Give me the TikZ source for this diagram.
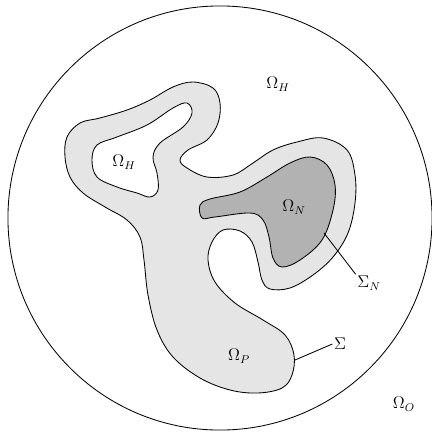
\documentclass[tikz,border=0pt]{standalone}
\usepackage{amsmath,amssymb}
\usepackage{tikz}

\begin{document}
\begin{tikzpicture}[
    x=0.025cm, y=-0.025cm,
    region/.style={draw=black, line width=0.6pt, fill=black!10},
    inner/.style={draw=black, line width=0.6pt, fill=black!30},
    hole/.style={draw=black, line width=0.6pt, fill=white},
    leader/.style={draw=black, line width=0.6pt},
    lbl/.style={inner sep=1pt, font=\large}
]
\useasboundingbox (0,0) rectangle (432,432);
\draw[line width=0.6pt] (220,218) circle [radius=5.3cm];
% outer region Sigma
\path[region] plot[smooth cycle, tension=0.6] coordinates {
  (193,82) (213,88) (220,103) (218,123) (207,140) (188,150) (180,160) (187,168)
  (207,177) (233,175) (253,163) (273,150) (297,142) (323,138) (347,150) (355,175)
  (355,203) (348,233) (333,257) (313,275) (290,288) (270,289) (262,280) (258,262)
  (252,242) (240,231) (223,230) (212,242) (208,260) (215,282) (235,303) (263,320)
  (285,335) (294,355) (292,375) (282,388) (258,393) (230,390) (200,378) (173,357)
  (157,330) (148,295) (144,260) (140,237) (127,220) (105,207) (83,193) (70,177)
  (65,157) (67,137) (80,123) (100,118) (127,110) (150,100) (173,87)};
% hole
\path[hole] plot[smooth cycle, tension=0.6] coordinates {
  (187,103) (192,113) (183,127) (160,143) (153,157) (157,173) (158,190) (150,197)
  (137,193) (117,187) (97,177) (92,160) (97,145) (117,137) (147,125) (173,108)};
% Omega_N
\path[inner] plot[smooth cycle, tension=0.6] coordinates {
  (310,157) (327,165) (335,185) (333,210) (322,240) (300,260) (282,267) (273,258)
  (269,237) (263,220) (250,213) (215,217) (202,218) (200,205) (210,199) (240,192)
  (267,177) (290,163)};

\node (omH) [lbl] at (278,84) {$\Omega_H$};
\node (omHin) [lbl] at (124,162) {$\Omega_H$};
\node (omN) [lbl] at (294,207) {$\Omega_N$};
\node (omP) [lbl] at (239,356) {$\Omega_P$};
\node (omO) [lbl] at (404,404) {$\Omega_O$};
\node (sigN) [lbl] at (369,283) {$\Sigma_N$};
\node (sig) [lbl] at (340,344) {$\Sigma$};

\coordinate (sigNpt) at (324,233);
\coordinate (sigpt) at (295,360);
\draw [leader] (sigNpt) -- (sigN.north west);
\draw [leader] (sigpt) -- (sig.west);
\end{tikzpicture}
\end{document}
